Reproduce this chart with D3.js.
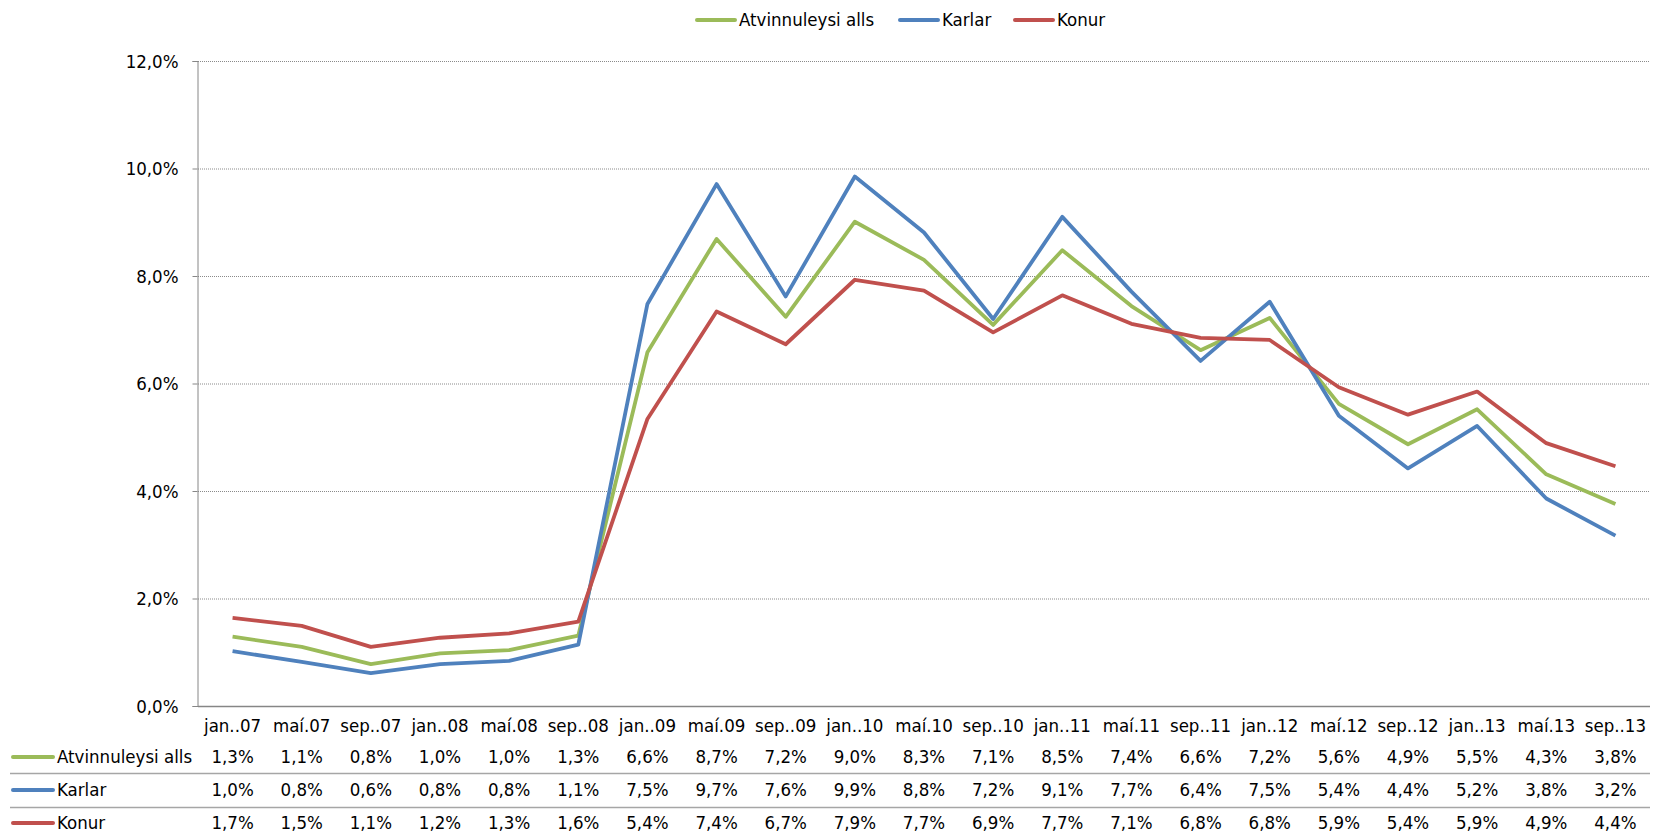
<!DOCTYPE html>
<html><head><meta charset="utf-8">
<script src="https://cdn.jsdelivr.net/npm/d3@7"></script>
<style>
body{margin:0;background:#fff;}
text{font-family:"DejaVu Sans Condensed","Open Sans",sans-serif;font-stretch:condensed;fill:#000;}
</style></head><body>
<svg id="c" width="1654" height="835"></svg>
<script>
const categories = ["jan..07","maí.07","sep..07","jan..08","maí.08","sep..08","jan..09","maí.09","sep..09","jan..10","maí.10","sep..10","jan..11","maí.11","sep..11","jan..12","maí.12","sep..12","jan..13","maí.13","sep..13"];
const seriesNames = ["Atvinnuleysi alls","Karlar","Konur"];
const allsValues  = [1.29,1.10,0.78,0.98,1.04,1.31,6.58,8.69,7.24,9.01,8.30,7.09,8.48,7.44,6.62,7.22,5.62,4.87,5.52,4.31,3.76];
const karlarValues= [1.02,0.82,0.61,0.78,0.84,1.14,7.48,9.71,7.62,9.85,8.81,7.20,9.10,7.71,6.42,7.52,5.40,4.42,5.21,3.86,3.17];
const konurValues = [1.64,1.49,1.10,1.27,1.35,1.57,5.34,7.34,6.73,7.93,7.73,6.95,7.64,7.11,6.85,6.81,5.93,5.42,5.85,4.89,4.46];
const allsLabels  = ["1,3%","1,1%","0,8%","1,0%","1,0%","1,3%","6,6%","8,7%","7,2%","9,0%","8,3%","7,1%","8,5%","7,4%","6,6%","7,2%","5,6%","4,9%","5,5%","4,3%","3,8%"];
const karlarLabels= ["1,0%","0,8%","0,6%","0,8%","0,8%","1,1%","7,5%","9,7%","7,6%","9,9%","8,8%","7,2%","9,1%","7,7%","6,4%","7,5%","5,4%","4,4%","5,2%","3,8%","3,2%"];
const konurLabels = ["1,7%","1,5%","1,1%","1,2%","1,3%","1,6%","5,4%","7,4%","6,7%","7,9%","7,7%","6,9%","7,7%","7,1%","6,8%","6,8%","5,9%","5,4%","5,9%","4,9%","4,4%"];
const yTicks = [0,2,4,6,8,10,12];
const colors = ["#9BBB59","#4F81BD","#C0504D"];

const series = [
  {name:seriesNames[0], values:allsValues, labels:allsLabels, color:colors[0]},
  {name:seriesNames[1], values:karlarValues, labels:karlarLabels, color:colors[1]},
  {name:seriesNames[2], values:konurValues, labels:konurLabels, color:colors[2]}
];

const FS = 18.5;
const FF = '"DejaVu Sans Condensed","Open Sans",sans-serif';
const svg = d3.select("#c");
const mLeft = 198, mRight = 1650, mTop = 61, mBottom = 706;
const x = d3.scaleBand().domain(categories).range([mLeft,mRight]);
const y = d3.scaleLinear().domain([0,12]).range([mBottom,mTop]);
const fmt = v => d3.format(".1f")(v).replace(".",",") + "%";

// gridlines
svg.append("g").selectAll("line").data(yTicks.filter(d=>d>0)).join("line")
  .attr("x1",mLeft).attr("x2",mRight).attr("y1",d=>y(d)+0.5).attr("y2",d=>y(d)+0.5)
  .attr("stroke","#8a8a8a").attr("stroke-width",1).attr("stroke-dasharray","1,1");

// y axis
const yAxis = svg.append("g").attr("transform",`translate(${mLeft-0.5},0)`)
  .call(d3.axisLeft(y).tickValues(yTicks).tickFormat(fmt).tickSize(5).tickPadding(14));
yAxis.select(".domain").attr("stroke","#868686");
yAxis.selectAll(".tick line").attr("stroke","#868686");
yAxis.selectAll("text").attr("font-size",FS).attr("fill","#000").style("font-family",FF).attr("dy","0.35em");

// x axis line
svg.append("line").attr("x1",mLeft).attr("x2",mRight).attr("y1",mBottom+0.5).attr("y2",mBottom+0.5)
  .attr("stroke","#868686").attr("stroke-width",1.5);

// lines
const line = d3.line().x((d,i)=>x(categories[i])+x.bandwidth()/2).y(d=>y(d));
svg.append("g").selectAll("path").data(series).join("path")
  .attr("d",d=>line(d.values)).attr("fill","none").attr("stroke",d=>d.color)
  .attr("stroke-width",3.8).attr("stroke-linejoin","round");

// category labels
svg.append("g").selectAll("text").data(categories).join("text")
  .attr("x",d=>x(d)+x.bandwidth()/2).attr("y",726).attr("dy","0.35em")
  .attr("text-anchor","middle").attr("font-size",FS).text(d=>d);

// data table
const rowY = [757,790,823];
series.forEach((s,r)=>{
  const g = svg.append("g");
  g.append("line").attr("x1",13).attr("x2",53).attr("y1",rowY[r]).attr("y2",rowY[r])
    .attr("stroke",s.color).attr("stroke-width",4).attr("stroke-linecap","round");
  g.append("text").attr("x",57).attr("y",rowY[r]).attr("dy","0.35em").attr("font-size",FS).text(s.name);
  g.selectAll("text.v").data(s.labels).join("text").attr("class","v")
    .attr("x",(d,i)=>x(categories[i])+x.bandwidth()/2).attr("y",rowY[r]).attr("dy","0.35em")
    .attr("text-anchor","middle").attr("font-size",FS).text(d=>d);
});
[773.5,807.5].forEach(yy=>{
  svg.append("line").attr("x1",10).attr("x2",mRight).attr("y1",yy).attr("y2",yy)
    .attr("stroke","#a6a6a6").attr("stroke-width",1.5);
});

// legend
const legX = [697,900,1015];
series.forEach((s,i)=>{
  svg.append("line").attr("x1",legX[i]).attr("x2",legX[i]+38).attr("y1",20).attr("y2",20)
    .attr("stroke",s.color).attr("stroke-width",4).attr("stroke-linecap","round");
  svg.append("text").attr("x",legX[i]+42).attr("y",20).attr("dy","0.35em").attr("font-size",FS).text(s.name);
});
</script></body></html>
